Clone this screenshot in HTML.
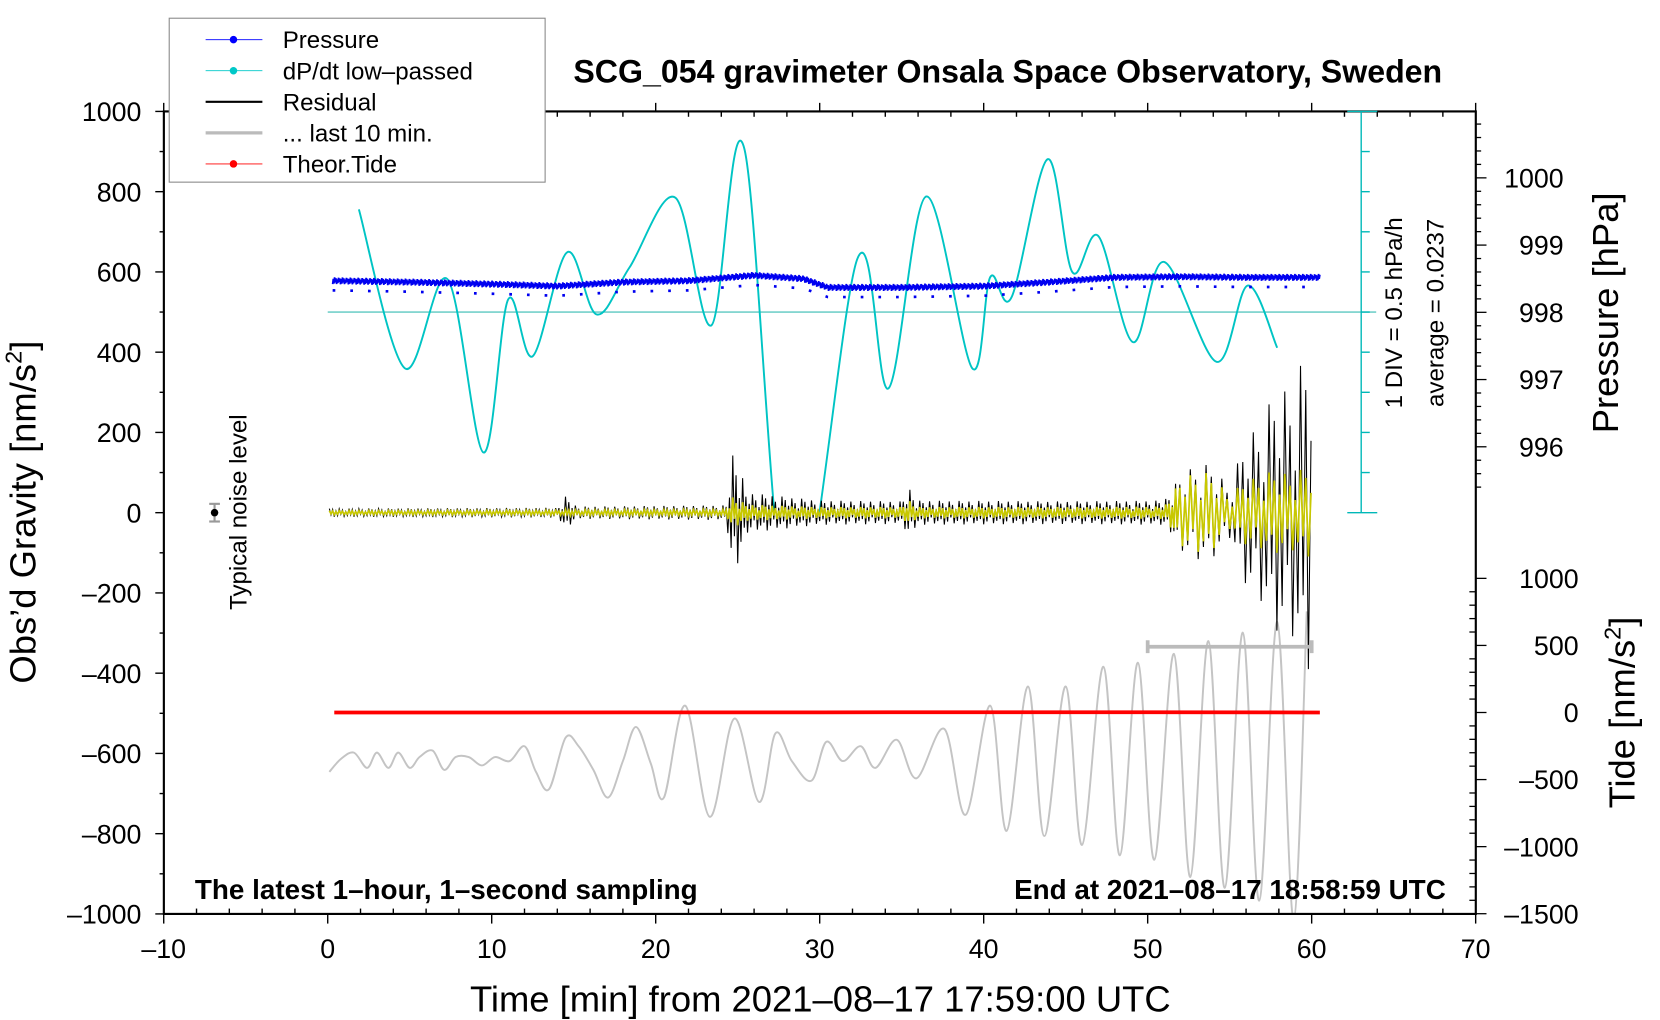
<!DOCTYPE html>
<html><head><meta charset="utf-8">
<style>
html,body{margin:0;padding:0;background:#fff;}
svg{display:block;font-family:"Liberation Sans",sans-serif;}
</style></head>
<body>
<svg id="chart" width="1660" height="1020" viewBox="0 0 1550 952" preserveAspectRatio="none" xmlns="http://www.w3.org/2000/svg">
<defs><clipPath id="plotclip"><rect x="153" y="104" width="1225" height="749"/></clipPath>
<clipPath id="cyanclip"><rect x="153" y="104" width="1225" height="374.5"/></clipPath></defs>
<rect x="0" y="0" width="1550" height="952" fill="#fff"/>
<g id="marks"></g>
<g id="axes"></g>
<text x="941" y="77" text-anchor="middle" font-size="30" font-weight="bold">SCG_054 gravimeter Onsala Space Observatory, Sweden</text>
<text x="182" y="839" font-size="26" font-weight="bold">The latest 1–hour, 1–second sampling</text>
<text x="1350" y="839" text-anchor="end" font-size="26" font-weight="bold">End at 2021–08–17 18:58:59 UTC</text>
<text x="766" y="944" text-anchor="middle" font-size="34">Time [min] from 2021–08–17 17:59:00 UTC</text>
<text transform="translate(33,478) rotate(-90)" text-anchor="middle" font-size="34">Obs’d Gravity [nm/s<tspan dy="-13" font-size="22">2</tspan><tspan dy="13">]</tspan></text>
<text transform="translate(1511,292) rotate(-90)" text-anchor="middle" font-size="34">Pressure [hPa]</text>
<text transform="translate(1526,665) rotate(-90)" text-anchor="middle" font-size="34">Tide [nm/s<tspan dy="-13" font-size="22">2</tspan><tspan dy="13">]</tspan></text>
<text transform="translate(1309,292) rotate(-90)" text-anchor="middle" font-size="22.5">1 DIV = 0.5 hPa/h</text>
<text transform="translate(1348,292) rotate(-90)" text-anchor="middle" font-size="22.5">average = 0.0237</text>
<text transform="translate(230,478) rotate(-90)" text-anchor="middle" font-size="22.5">Typical noise level</text>
<g>
<rect x="158" y="17" width="351" height="153" fill="#fff" stroke="#888" stroke-width="1"/>
<g><line x1="192" y1="37" x2="245" y2="37" stroke="#00f" stroke-width="0.8"/><circle cx="218" cy="37" r="3.5" fill="#00f"/><text x="264" y="45" font-size="22.5">Pressure</text></g>
<g><line x1="192" y1="66" x2="245" y2="66" stroke="#00c8c8" stroke-width="0.8"/><circle cx="218" cy="66" r="3.5" fill="#00c8c8"/><text x="264" y="74" font-size="22.5">dP/dt low–passed</text></g>
<g><line x1="192" y1="95" x2="245" y2="95" stroke="#000" stroke-width="2"/><text x="264" y="103" font-size="22.5">Residual</text></g>
<g><line x1="192" y1="124" x2="245" y2="124" stroke="#bbb" stroke-width="3"/><text x="264" y="132" font-size="22.5">... last 10 min.</text></g>
<g><line x1="192" y1="153" x2="245" y2="153" stroke="#f00" stroke-width="0.8"/><circle cx="218" cy="153" r="3.5" fill="#f00"/><text x="264" y="161" font-size="22.5">Theor.Tide</text></g>
</g>
</svg>
<script>
// Gray tide-like curve (nm/s^2, left axis)
const grayT=[0.1,0.8,1.6,2.4,3.0,3.7,4.3,5.0,5.6,6.4,7.1,7.8,8.6,9.4,10.2,11.1,12.0,12.7,13.5,14.5,15.3,16.2,17.1,18.0,18.8,19.7,20.5,21.8,23.3,24.8,26.3,27.3,28.3,29.5,30.4,31.4,32.5,33.4,34.7,35.9,37.6,38.9,40.4,41.4,42.7,43.7,45.0,46.0,47.3,48.3,49.4,50.4,51.6,52.6,53.7,54.7,55.8,56.8,57.9,58.9,59.7];
const grayV=[-646,-614,-598,-636,-598,-636,-598,-636,-609,-593,-641,-609,-609,-630,-609,-619,-582,-646,-689,-561,-582,-641,-710,-619,-534,-625,-710,-481,-758,-513,-721,-550,-619,-668,-571,-619,-582,-636,-566,-662,-539,-753,-481,-793,-433,-806,-433,-828,-384,-854,-374,-865,-352,-908,-320,-935,-299,-967,-272,-1015,-246];
// dP/dt low-passed (plotted in left-axis units)
const cyanT=[1.9,4.7,7.3,9.5,11.0,12.5,14.6,16.4,18.4,21.2,23.4,25.4,28.3,32.3,34.2,36.5,39.3,40.4,41.7,43.9,45.4,47.0,49.1,51.0,54.2,56.1,57.9];
const cyanV=[756,360,582,150,531,390,649,494,611,785,467,908,-300,633,310,788,360,587,537,881,600,689,425,625,376,566,411];
// Pressure (hPa)
const presT=[0.3,5,10,14,18,22,26,29,30.5,35,40,44,48,52,56,60.5];
const presV=[998.47,998.45,998.42,998.39,998.45,998.47,998.55,998.50,998.37,998.37,998.39,998.45,998.52,998.53,998.52,998.52];
// Residual envelope (nm/s^2)
const resT=[0,14,14.5,15.2,24.3,24.7,25.0,25.5,30,35,35.5,36,45,51,52,53,54,55,56,57,58,59,60];
const resBlack=[10,12,40,15,18,150,140,50,30,28,60,30,28,30,90,130,110,70,180,250,300,350,400];
const resYellow=[5,6,8,7,8,40,35,20,14,14,30,14,14,15,80,110,90,45,80,100,100,105,110];
const noiseT=[-6.9], noiseV=[0], noiseErr=[22];
// Theoretical tide (nm/s^2, tide axis)
const tideT=[0.4,10,20,30,40,50,60.5];
const tideV=[0,0,1,1,2,2,0];
const lastRange=[50,60], lastLevel=[-334];
// Tick labels
const xTicks=[-10,0,10,20,30,40,50,60,70];
const yTicks=[-1000,-800,-600,-400,-200,0,200,400,600,800,1000];
const pTicks=[996,997,998,999,1000];
const tdTicks=[-1500,-1000,-500,0,500,1000];

const NS='http://www.w3.org/2000/svg';
const X=t=>306+t*15.3125;
const Y=v=>478.5-v*0.3745;
const P=p=>166+(1000-p)*62.75;
const TD=v=>665-v*0.1252;
const marks=document.getElementById('marks'), axes=document.getElementById('axes');
function mk(tag,attrs,parent){const e=document.createElementNS(NS,tag);for(const k in attrs)e.setAttribute(k,attrs[k]);(parent||marks).appendChild(e);return e;}
function smooth(pts){let d='M'+pts[0][0]+','+pts[0][1];for(let i=0;i<pts.length-1;i++){const p0=pts[Math.max(0,i-1)],p1=pts[i],p2=pts[i+1],p3=pts[Math.min(pts.length-1,i+2)];const c1x=p1[0]+(p2[0]-p0[0])/6,c1y=p1[1]+(p2[1]-p0[1])/6,c2x=p2[0]-(p3[0]-p1[0])/6,c2y=p2[1]-(p3[1]-p1[1])/6;d+=` C${c1x},${c1y} ${c2x},${c2y} ${p2[0]},${p2[1]}`;}return d;}
function interp(ts,vs,t){if(t<=ts[0])return vs[0];for(let i=1;i<ts.length;i++)if(t<=ts[i]){const f=(t-ts[i-1])/(ts[i]-ts[i-1]);return vs[i-1]+f*(vs[i]-vs[i-1]);}return vs[vs.length-1];}
const pat=[1,-0.55,0.8,-1,0.45,-0.75,0.95,-0.4,0.65,-0.9,0.3,-0.7];

// gray
let g=mk('path',{d:smooth(grayT.map((t,i)=>[X(t),Y(grayV[i])])),fill:'none',stroke:'#c4c4c4','stroke-width':1.8,'clip-path':'url(#plotclip)'});


// cyan avg line
let al=mk('line',{x1:X(0),x2:1285,y1:Y(500),y2:Y(500),stroke:'#5cc8c0','stroke-width':1.3});


// cyan
let c=mk('path',{d:smooth(cyanT.map((t,i)=>[X(t),Y(cyanV[i])])),fill:'none',stroke:'#00c4c4','stroke-width':1.8,'clip-path':'url(#cyanclip)'});


// pressure noisy band
let pp=[],k0=0;
for(let t=presT[0];t<=presT[presT.length-1];t+=0.04){pp.push(X(t)+','+(P(interp(presT,presV,t))+3.2*pat[k0%pat.length]));k0++;}
let pl=mk('polyline',{points:pp.join(' '),fill:'none',stroke:'#0000f0','stroke-width':1.6});


let pl2=mk('polyline',{points:presT.map((t,i)=>X(t)+','+(P(presV[i])+9)).join(' '),fill:'none',stroke:'#0000f0','stroke-width':2.5,'stroke-dasharray':'2.5 14'});


// residuals
function resPath(env,step0){let pts=[],k=0;for(let t=0.1;t<=60.05;){const a=interp(resT,env,t);pts.push(X(t)+','+Y(a*pat[k%pat.length]));k++;t+=(t>51.8?0.16:step0);}return pts.join(' ');}
let rb=mk('polyline',{points:resPath(resBlack,0.1),fill:'none',stroke:'#000','stroke-width':1});


let ry=mk('polyline',{points:resPath(resYellow,0.1),fill:'none',stroke:'#c8c800','stroke-width':1.6});


// tide
let tl=mk('polyline',{points:tideT.map((t,i)=>X(t)+','+TD(tideV[i])).join(' '),fill:'none',stroke:'#f00','stroke-width':3.5});


// last 10 min bar
let lb=mk('g',{stroke:'#bbb','stroke-width':3.5});


mk('line',{x1:X(lastRange[0]),x2:X(lastRange[1]),y1:Y(lastLevel[0]),y2:Y(lastLevel[0])},lb);
mk('line',{x1:X(lastRange[0]),x2:X(lastRange[0]),y1:Y(lastLevel[0])-6,y2:Y(lastLevel[0])+6},lb);
mk('line',{x1:X(lastRange[1]),x2:X(lastRange[1]),y1:Y(lastLevel[0])-6,y2:Y(lastLevel[0])+6},lb);
// noise level
let nz=mk('g',{});


mk('line',{x1:X(noiseT[0]),x2:X(noiseT[0]),y1:Y(noiseV[0]+noiseErr[0]),y2:Y(noiseV[0]-noiseErr[0]),stroke:'#999','stroke-width':2},nz);
mk('line',{x1:X(noiseT[0])-5,x2:X(noiseT[0])+5,y1:Y(noiseErr[0]),y2:Y(noiseErr[0]),stroke:'#999','stroke-width':2},nz);
mk('line',{x1:X(noiseT[0])-5,x2:X(noiseT[0])+5,y1:Y(-noiseErr[0]),y2:Y(-noiseErr[0]),stroke:'#999','stroke-width':2},nz);
mk('circle',{cx:X(noiseT[0]),cy:Y(noiseV[0]),r:3.5,fill:'#000'},nz);

// axes frame
let fr=mk('rect',{x:153,y:104,width:1225,height:749,fill:'none',stroke:'#000','stroke-width':2},axes);


for(let t=-10;t<=70;t+=2){const x=X(t),maj=(t%10===0);
 mk('line',{x1:x,x2:x,y1:853,y2:maj?862:848,stroke:'#000','stroke-width':1.3},axes);
 mk('line',{x1:x,x2:x,y1:104,y2:maj?96:109,stroke:'#000','stroke-width':1.3},axes);}
xTicks.forEach(t=>{const e=mk('text',{x:X(t),y:894,'text-anchor':'middle','font-size':25},axes);e.textContent=String(t).replace('-','–');

});
for(let v=-1000;v<=1000;v+=100){const y=Y(v),maj=(v%200===0);mk('line',{x1:maj?145:149,x2:153,y1:y,y2:y,stroke:'#000','stroke-width':1.3},axes);}
yTicks.forEach(v=>{const e=mk('text',{x:132,y:Y(v)+9,'text-anchor':'end','font-size':25},axes);e.textContent=String(v).replace('-','–');

});
for(let p=995.4;p<=1000.9;p+=0.2){const y=P(p);if(y<104||y>478)continue;const maj=Math.abs(p-Math.round(p))<0.01;mk('line',{x1:1378,x2:maj?1388:1383,y1:y,y2:y,stroke:'#000','stroke-width':1.2},axes);}
pTicks.forEach(p=>{const e=mk('text',{x:1460,y:P(p)+9,'text-anchor':'end','font-size':25},axes);e.textContent=p;

});
for(let v=-1500;v<=1000;v+=100){const y=TD(v),maj=(v%500===0);mk('line',{x1:maj?1378:1372,x2:maj?1388:1378,y1:y,y2:y,stroke:'#000','stroke-width':1.2},axes);}
tdTicks.forEach(v=>{const e=mk('text',{x:1474,y:TD(v)+9,'text-anchor':'end','font-size':25},axes);e.textContent=String(v).replace('-','–');

});
// DIV scale
let dv=mk('g',{stroke:'#00b8b8','stroke-width':1.3},axes);


mk('line',{x1:1271,x2:1271,y1:104,y2:478},dv);
for(let i=0;i<=10;i++){const y=104+i*37.45;const end=(i===0||i===10);mk('line',{x1:end?1258:1271,x2:end?1286:1279,y1:y,y2:y},dv);}
</script>
</body></html>
